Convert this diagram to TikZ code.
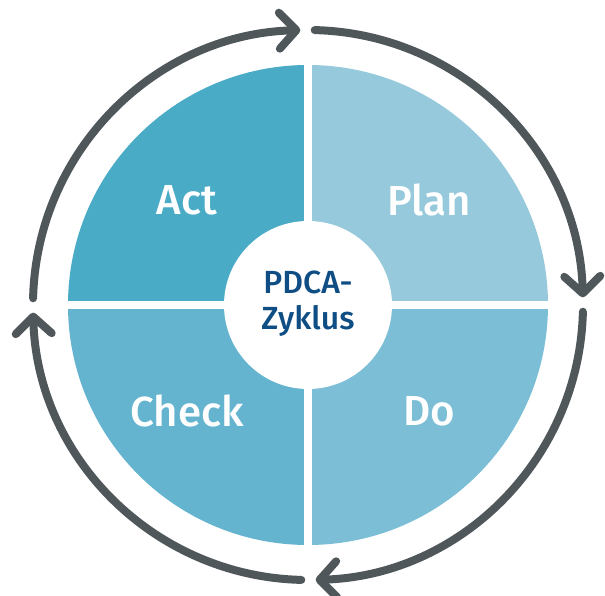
\documentclass[tikz,border=0pt]{standalone}
\usepackage{fontspec}
\setmainfont{Fira Sans}[BoldFont={Fira Sans Medium}]
\usetikzlibrary{arrows.meta}
\definecolor{actblue}{RGB}{74,171,199}
\definecolor{planblue}{RGB}{150,201,219}
\definecolor{checkblue}{RGB}{100,180,208}
\definecolor{doblue}{RGB}{123,190,214}
\definecolor{cyclegray}{RGB}{80,87,91}
\definecolor{titleblue}{RGB}{14,78,132}

\begin{document}
\begin{tikzpicture}[x=1pt, y=1pt,
    phase/.style={text=white, font=\fontsize{42}{50}\selectfont\bfseries},
    cyclearc/.style={cyclegray, line width=8pt, line cap=round, -{Straight Barb[length=17pt, width=36pt, round]}}]
      \useasboundingbox (-308,-291) rectangle (297,305);
      \fill[planblue] (0,0) -- (90:240) arc[start angle=90, end angle=0, radius=240] -- cycle;
      \fill[doblue] (0,0) -- (0:240) arc[start angle=0, end angle=-90, radius=240] -- cycle;
      \fill[checkblue] (0,0) -- (-90:240) arc[start angle=-90, end angle=-180, radius=240] -- cycle;
      \fill[actblue] (0,0) -- (180:240) arc[start angle=180, end angle=90, radius=240] -- cycle;
      \draw[white, line width=8pt] (-244,0) -- (244,0) (0,-244) -- (0,244);
      \fill[white] (0,0) circle [radius=84];

      \node [phase] (act) at (-121,105) {Act};
      \node [phase] (plan) at (121,105) {Plan};
      \node [phase] (check) at (-121,-106) {Check};
      \node [phase] (do) at (121,-106) {Do};
      \node [text=titleblue, align=center, font=\fontsize{32}{36}\selectfont\bfseries] (pdca) at (0,1) {PDCA-\\Zyklus};

      \draw[cyclearc] (88.6:275) arc[start angle=88.6, end angle=1.6, radius=275];
      \draw[cyclearc] (-1.4:275) arc[start angle=-1.4, end angle=-88.4, radius=275];
      \draw[cyclearc] (-91.4:275) arc[start angle=-91.4, end angle=-178.4, radius=275];
      \draw[cyclearc] (178.6:275) arc[start angle=178.6, end angle=91.6, radius=275];
    \end{tikzpicture}
\end{document}
